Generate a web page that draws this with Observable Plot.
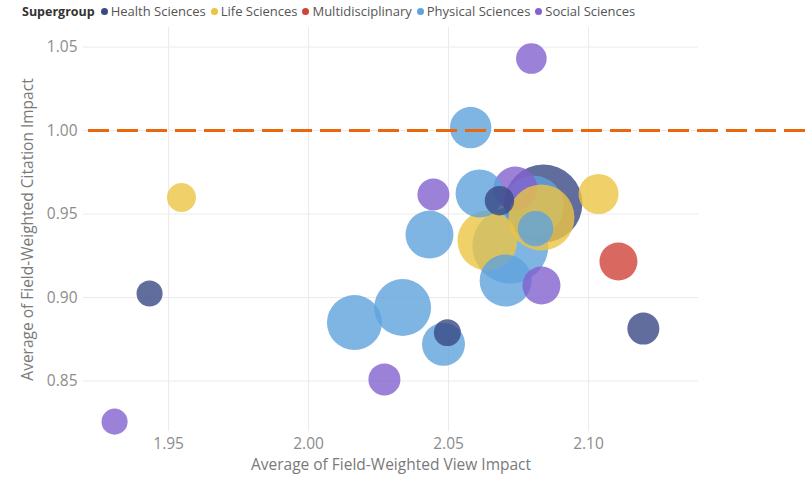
<!DOCTYPE html>
<html>
<head>
<meta charset="utf-8">
<script src="https://cdn.jsdelivr.net/npm/d3@7"></script>
<script src="https://cdn.jsdelivr.net/npm/@observablehq/plot@0.6"></script>
<style>
  body { margin: 0; background: #fff; font-family: "Open Sans", sans-serif; }
  #legend { height: 22px; display: flex; align-items: center; padding-left: 22px; font-size: 13px; color: #555; white-space: nowrap; }
  #legend .title { font-weight: bold; color: #333; margin-right: 6px; font-size: 12.5px; }
  #legend .item { display: flex; align-items: center; margin-right: 5px; }
  #legend .sw { width: 7px; height: 7px; border-radius: 50%; margin-right: 3px; }
  #chart svg g[aria-label="x-axis tick label"], #chart svg g[aria-label="y-axis tick label"] { fill: #8c8c8c; }
</style>
</head>
<body>
<div id="legend"></div>
<div id="chart"></div>
<script>
// ---- data ----
const categories = ["Health Sciences", "Life Sciences", "Multidisciplinary", "Physical Sciences", "Social Sciences"];
const palette = ["#3a4a85", "#ecc443", "#cf4338", "#5fa3dc", "#8262cd"];

const supergroup = [
  "Physical Sciences", "Health Sciences", "Physical Sciences", "Social Sciences", "Life Sciences",
  "Physical Sciences", "Life Sciences", "Physical Sciences", "Social Sciences", "Physical Sciences",
  "Physical Sciences", "Social Sciences", "Health Sciences", "Physical Sciences", "Physical Sciences",
  "Physical Sciences", "Health Sciences", "Social Sciences", "Social Sciences", "Physical Sciences",
  "Life Sciences", "Multidisciplinary", "Health Sciences", "Life Sciences", "Health Sciences",
  "Social Sciences"
];
const viewImpact = [
  2.0721, 2.0839, 2.0804, 2.0739, 2.0832,
  2.0811, 2.0639, 2.0704, 2.0832, 2.0432,
  2.0611, 2.0446, 2.0682, 2.0164, 2.0336,
  2.0482, 2.0496, 2.0271, 2.0796, 2.0579,
  2.1036, 2.1107, 2.1196, 1.9546, 1.9432,
  1.9307
];
const citationImpact = [
  0.9311, 0.9563, 0.9550, 0.9653, 0.9479,
  0.9413, 0.9341, 0.9102, 0.9072, 0.9377,
  0.9623, 0.9617, 0.9580, 0.8850, 0.8940,
  0.8720, 0.8790, 0.8510, 1.0431, 1.0018,
  0.9620, 0.9216, 0.8814, 0.9599, 0.9024,
  0.8257
];
const outputs = [
  14440, 15200, 9000, 4840, 10900,
  3130, 9000, 6760, 3610, 5760,
  5760, 2560, 2160, 7560, 8100,
  4620, 1820, 2560, 2340, 4290,
  4000, 3610, 2560, 2100, 1700,
  1700
];
const xTicks = [1.95, 2.00, 2.05, 2.10];
const yTicks = [0.85, 0.90, 0.95, 1.00, 1.05];
const referenceCitation = [1.0];

// ---- legend ----
const legend = document.getElementById("legend");
legend.innerHTML = `<span class="title">Supergroup</span>` + categories.map((c, i) =>
  `<span class="item"><span class="sw" style="background:${palette[i]}"></span>${c}</span>`).join("");

// ---- chart ----
const idx = d3.range(supergroup.length);
const chart = Plot.plot({
  width: 805,
  height: 457,
  marginTop: 5,
  marginLeft: 83,
  marginRight: 107,
  marginBottom: 48,
  style: { fontFamily: "Open Sans, sans-serif", fontSize: "15.5px", color: "#7a7a7a", background: "#fff" },
  x: { domain: [1.9196, 2.1393] },
  y: { domain: [0.8198, 1.0617] },
  r: { type: "sqrt", domain: [0, 16000], range: [0, 40] },
  color: { domain: categories, range: palette },
  marks: [
    Plot.gridX(xTicks, { stroke: "#ebebeb", strokeOpacity: 1 }),
    Plot.gridY(yTicks, { stroke: "#ebebeb", strokeOpacity: 1 }),
    Plot.axisX(xTicks, {
      tickSize: 0, tickPadding: 6, tickFormat: d3.format(".2f"),
      label: "Average of Field-Weighted View Impact", labelAnchor: "center", labelArrow: "none", labelOffset: 38
    }),
    Plot.axisY(yTicks, {
      tickSize: 0, tickPadding: 6, tickFormat: d3.format(".2f"),
      label: "Average of Field-Weighted Citation Impact", labelAnchor: "center", labelArrow: "none", labelOffset: 62
    }),
    Plot.dot(idx, {
      x: i => viewImpact[i], y: i => citationImpact[i], r: i => outputs[i],
      fill: i => supergroup[i], fillOpacity: 0.8, sort: null
    }),
    Plot.ruleY(referenceCitation, { stroke: "#ea670c", strokeWidth: 3, strokeDasharray: "21,8", insetLeft: 5, insetRight: -107 })
  ]
});
document.getElementById("chart").appendChild(chart);
</script>
</body>
</html>
